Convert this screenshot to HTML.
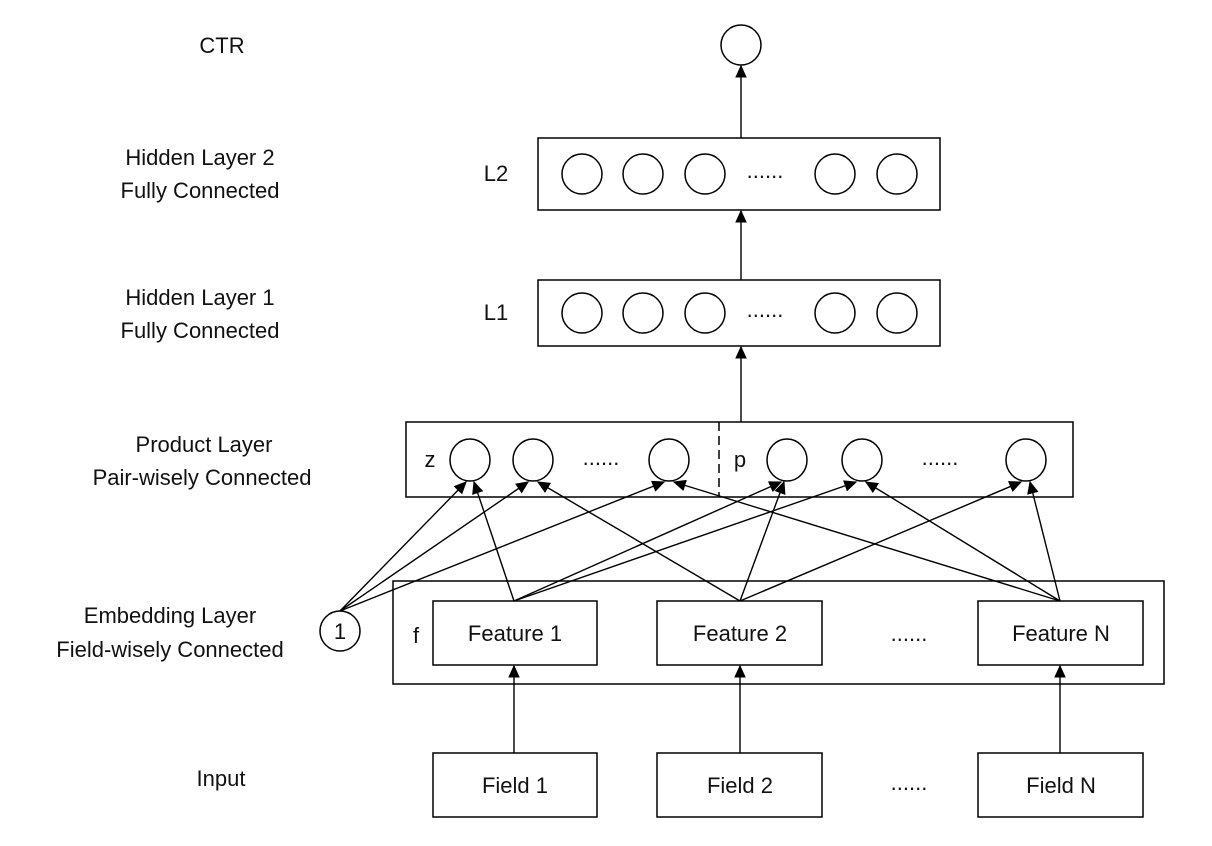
<!DOCTYPE html>
<html><head><meta charset="utf-8"><style>
body{margin:0;background:#fff}
svg{display:block}
text{font-family:"Liberation Sans",sans-serif;font-size:22px;fill:#111}
</style></head><body>
<svg width="1212" height="846" viewBox="0 0 1212 846" xmlns="http://www.w3.org/2000/svg">
<defs><marker id="a" viewBox="0 0 10 10" refX="9" refY="5" markerWidth="13" markerHeight="13" orient="auto" markerUnits="userSpaceOnUse"><path d="M0,0.5L10,5L0,9.5z" fill="#000"/></marker></defs>
<g fill="none" stroke="#000" stroke-width="1.5">
<circle cx="741" cy="45" r="20"/>
<rect x="538" y="138" width="402" height="72"/>
<rect x="538" y="280" width="402" height="66"/>
<rect x="406" y="422" width="667" height="75"/>
<line x1="719" y1="422" x2="719" y2="497" stroke-dasharray="9,5"/>
<rect x="393" y="581" width="771" height="103"/>
<rect x="433" y="601" width="164" height="64"/>
<rect x="657" y="601" width="165" height="64"/>
<rect x="978" y="601" width="165" height="64"/>
<rect x="433" y="753" width="164" height="64"/>
<rect x="657" y="753" width="165" height="64"/>
<rect x="978" y="753" width="165" height="64"/>
<circle cx="340" cy="631" r="20"/>
<g>
<circle cx="582" cy="174" r="20"/><circle cx="643" cy="174" r="20"/><circle cx="705" cy="174" r="20"/><circle cx="835" cy="174" r="20"/><circle cx="897" cy="174" r="20"/>
<circle cx="582" cy="313" r="20"/><circle cx="643" cy="313" r="20"/><circle cx="705" cy="313" r="20"/><circle cx="835" cy="313" r="20"/><circle cx="897" cy="313" r="20"/>
<ellipse cx="470" cy="460" rx="20" ry="21"/><ellipse cx="533" cy="460" rx="20" ry="21"/><ellipse cx="669" cy="460" rx="20" ry="21"/>
<ellipse cx="787" cy="460" rx="20" ry="21"/><ellipse cx="862" cy="460" rx="20" ry="21"/><ellipse cx="1026" cy="460" rx="20" ry="21"/>
</g>
<g marker-end="url(#a)" stroke-width="1.4">
<line x1="741" y1="138" x2="741" y2="66"/>
<line x1="741" y1="280" x2="741" y2="211"/>
<line x1="741" y1="422" x2="741" y2="347"/>
<line x1="514" y1="753" x2="514" y2="666"/>
<line x1="740" y1="753" x2="740" y2="666"/>
<line x1="1060" y1="753" x2="1060" y2="666"/>
<line x1="340" y1="611" x2="466" y2="482"/>
<line x1="340" y1="611" x2="528" y2="482"/>
<line x1="340" y1="611" x2="664" y2="482"/>
<line x1="514" y1="601" x2="474" y2="482"/>
<line x1="514" y1="601" x2="781" y2="482"/>
<line x1="514" y1="601" x2="856" y2="482"/>
<line x1="740" y1="601" x2="538" y2="482"/>
<line x1="740" y1="601" x2="784" y2="482"/>
<line x1="740" y1="601" x2="1021" y2="482"/>
<line x1="1060" y1="601" x2="674" y2="482"/>
<line x1="1060" y1="601" x2="866" y2="482"/>
<line x1="1060" y1="601" x2="1030" y2="482"/>
</g>
</g>
<g text-anchor="middle">
<text x="222" y="53">CTR</text>
<text x="200" y="165">Hidden Layer 2</text><text x="200" y="198">Fully Connected</text>
<text x="200" y="305">Hidden Layer 1</text><text x="200" y="338">Fully Connected</text>
<text x="204" y="452">Product Layer</text><text x="202" y="485">Pair-wisely Connected</text>
<text x="170" y="623">Embedding Layer</text><text x="170" y="657">Field-wisely Connected</text>
<text x="221" y="786">Input</text>
<text x="496" y="181">L2</text><text x="496" y="320">L1</text>
<text x="515" y="641">Feature 1</text><text x="740" y="641">Feature 2</text><text x="1061" y="641">Feature N</text>
<text x="515" y="793">Field 1</text><text x="740" y="793">Field 2</text><text x="1061" y="793">Field N</text>
<text x="340" y="639">1</text>
<text x="416" y="643">f</text>
<text x="430" y="467">z</text><text x="740" y="467">p</text>
<text x="765" y="178">......</text><text x="765" y="317">......</text>
<text x="601" y="465">......</text><text x="940" y="465">......</text>
<text x="909" y="641">......</text><text x="909" y="790">......</text>
</g>
</svg>
</body></html>
